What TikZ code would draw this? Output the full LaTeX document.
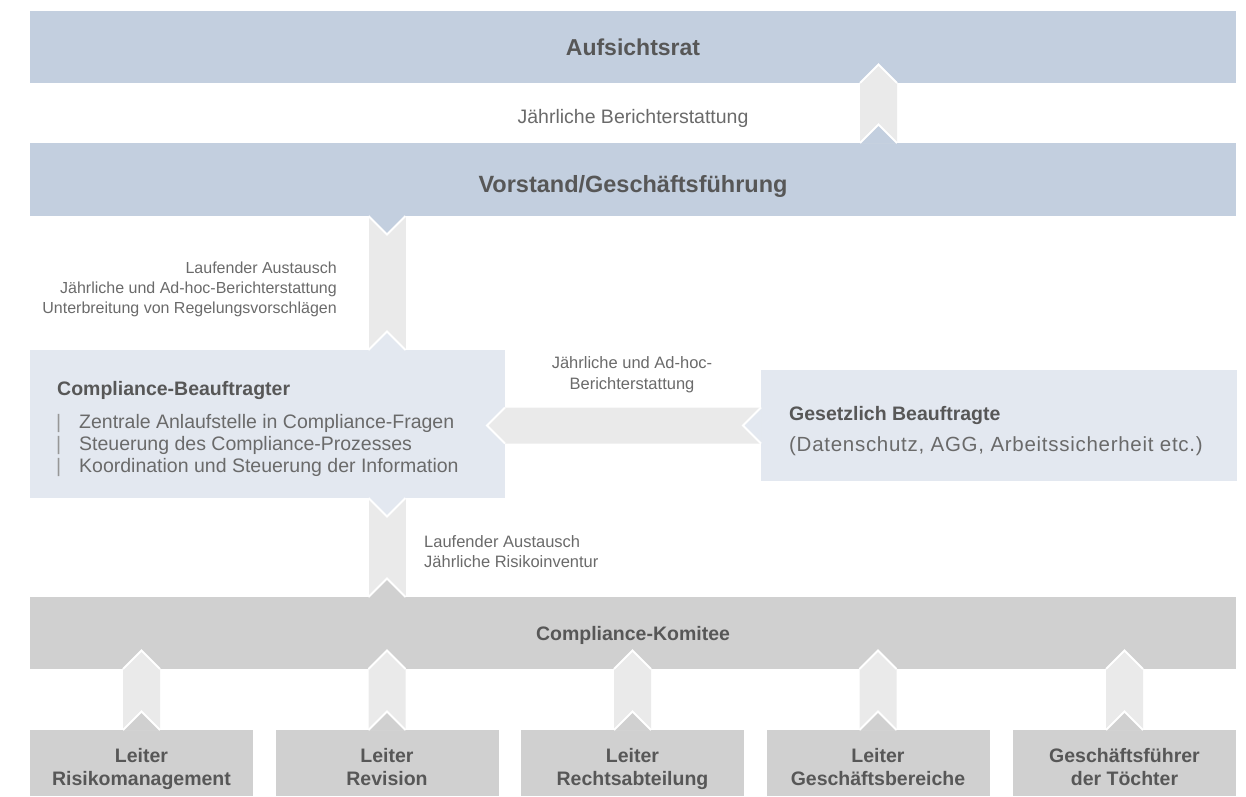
\documentclass[tikz,border=0pt]{standalone}
\usepackage{fontspec}
\setmainfont{Liberation Sans}
\usetikzlibrary{calc}
\definecolor{barblue}{HTML}{C3CFDF}
\definecolor{boxblue}{HTML}{E3E8F0}
\definecolor{arrgray}{HTML}{EAEAEA}
\definecolor{boxgray}{HTML}{D0D0D0}
\definecolor{txtdark}{HTML}{575757}
\definecolor{txtlight}{HTML}{6A6A6A}

% up-pointing chevron: #1 x, #2 upper node, #3 lower node, #4 lower colour
\newcommand\upchev[4]{%
  \fill[arrgray] let \p1=(#2.south), \p2=(#3.north) in
    (#1-18.5pt,\y1) -- (#1,\y1+18.5pt) -- (#1+18.5pt,\y1) -- (#1+18.5pt,\y2) -- (#1-18.5pt,\y2) -- cycle;
  \fill[#4] let \p2=(#3.north) in (#1-18.5pt,\y2) -- (#1,\y2+18.5pt) -- (#1+18.5pt,\y2) -- cycle;
  \draw[wline] let \p1=(#2.south) in (#1-18.5pt,\y1) -- (#1,\y1+18.5pt) -- (#1+18.5pt,\y1);
  \draw[wline] let \p2=(#3.north) in (#1-18.5pt,\y2) -- (#1,\y2+18.5pt) -- (#1+18.5pt,\y2);
}
% strip with notches: #1 x, #2 upper node, #3 lower node, #4 upper colour, #5 lower colour
\newcommand\notchstrip[5]{%
  \fill[arrgray] let \p1=(#2.south), \p2=(#3.north) in (#1-18.5pt,\y1) rectangle (#1+18.5pt,\y2);
  \fill[#4] let \p1=(#2.south) in (#1-18.5pt,\y1) -- (#1,\y1-18.5pt) -- (#1+18.5pt,\y1) -- cycle;
  \fill[#5] let \p2=(#3.north) in (#1-18.5pt,\y2) -- (#1,\y2+18.5pt) -- (#1+18.5pt,\y2) -- cycle;
  \draw[wline] let \p1=(#2.south) in (#1-18.5pt,\y1) -- (#1,\y1-18.5pt) -- (#1+18.5pt,\y1);
  \draw[wline] let \p2=(#3.north) in (#1-18.5pt,\y2) -- (#1,\y2+18.5pt) -- (#1+18.5pt,\y2);
}

\begin{document}
\begin{tikzpicture}[x=1pt,y=-1pt,
  box/.style={draw=none, inner sep=0pt, outer sep=0pt, anchor=north west},
  wline/.style={white, line width=2pt, line join=miter},
  hd/.style={font=\fontsize{19.5}{23}\selectfont\bfseries, text=txtdark, inner sep=0pt},
  hdbig/.style={font=\fontsize{23.5}{27}\selectfont\bfseries, text=txtdark, inner sep=0pt},
  hdtop/.style={font=\fontsize{23}{27}\selectfont\bfseries, text=txtdark, inner sep=0pt},
  lab/.style={font=\fontsize{16.5}{20}\selectfont, text=txtlight, inner sep=0pt},
  labl/.style={font=\fontsize{16}{20}\selectfont, text=txtlight, inner sep=0pt},
  lst/.style={font=\fontsize{19.5}{23}\selectfont, text=txtlight, inner sep=0pt},
  lstw/.style={font=\fontsize{20.5}{24}\selectfont\addfontfeatures{LetterSpace=3.5}, text=txtlight, inner sep=0pt},
  vbar/.style={font=\fontsize{19.5}{23}\selectfont, text=txtlight!70, inner sep=0pt}]
\useasboundingbox (0,0) rectangle (1246,796);

% boxes
\node[box, fill=barblue, minimum width=1206pt, minimum height=72pt] (auf) at (30,11) {};
\node[box, fill=barblue, minimum width=1206pt, minimum height=73pt] (vor) at (30,143) {};
\node[box, fill=boxblue, minimum width=475pt, minimum height=148pt] (cb) at (30,350) {};
\node[box, fill=boxblue, minimum width=476pt, minimum height=111pt] (gb) at (761,370) {};
\node[box, fill=boxgray, minimum width=1206pt, minimum height=72pt] (kom) at (30,597) {};
\node[box, fill=boxgray, minimum width=223pt, minimum height=66pt] (b1) at (30,730) {};
\node[box, fill=boxgray, minimum width=223pt, minimum height=66pt] (b2) at (275.5,730) {};
\node[box, fill=boxgray, minimum width=223pt, minimum height=66pt] (b3) at (521,730) {};
\node[box, fill=boxgray, minimum width=223pt, minimum height=66pt] (b4) at (766.5,730) {};
\node[box, fill=boxgray, minimum width=223pt, minimum height=66pt] (b5) at (1013,730) {};

% arrows
\upchev{878.5pt}{auf}{vor}{barblue}
\notchstrip{387pt}{vor}{cb}{barblue}{boxblue}
\notchstrip{387pt}{cb}{kom}{boxblue}{boxgray}
\fill[arrgray] let \p1=(cb.east), \p2=(gb.west) in
  (\x1,\y2+18pt) -- (\x1-18pt,\y2) -- (\x1,\y2-18pt) -- (\x2,\y2-18pt) -- (\x2,\y2+18pt) -- cycle;
\fill[boxblue] let \p2=(gb.west) in (\x2,\y2+18pt) -- (\x2-18pt,\y2) -- (\x2,\y2-18pt) -- cycle;
\draw[wline] let \p1=(cb.east), \p2=(gb.west) in (\x1,\y2+18pt) -- (\x1-18pt,\y2) -- (\x1,\y2-18pt);
\draw[wline] let \p2=(gb.west) in (\x2,\y2+18pt) -- (\x2-18pt,\y2) -- (\x2,\y2-18pt);
\foreach \b/\cx in {b1/141.5pt, b2/387pt, b3/632.5pt, b4/878pt, b5/1124.5pt}{
  \upchev{\cx}{kom}{\b}{boxgray}
}

% texts
\node[hdtop, anchor=base] (t-auf) at (633,55) {Aufsichtsrat};
\node[lst, anchor=base] (t-jb) at (633,123) {Jährliche Berichterstattung};
\node[hdbig, anchor=base] (t-vor) at (633,192) {Vorstand/Geschäftsführung};

\node[labl, anchor=base east] (l1) at (337,273) {Laufender Austausch};
\node[labl, anchor=base east] (l2) at (337,293) {Jährliche und Ad-hoc-Berichterstattung};
\node[labl, anchor=base east] (l3) at (337,313) {Unterbreitung von Regelungsvorschlägen};

\node[hd, anchor=base west] (t-cb) at (57,395) {Compliance-Beauftragter};
\node[vbar, anchor=base west] (v1) at (56,428) {|};
\node[vbar, anchor=base west] (v2) at (56,450) {|};
\node[vbar, anchor=base west] (v3) at (56,472) {|};
\node[lst, anchor=base west] (c1) at (79,428) {Zentrale Anlaufstelle in Compliance-Fragen};
\node[lst, anchor=base west] (c2) at (79,450) {Steuerung des Compliance-Prozesses};
\node[lst, anchor=base west] (c3) at (79,472) {Koordination und Steuerung der Information};

\node[lab, anchor=base] (m1) at (632,368) {Jährliche und Ad-hoc-};
\node[lab, anchor=base] (m2) at (632,389) {Berichterstattung};

\node[hd, anchor=base west] (t-gb) at (789,420) {Gesetzlich Beauftragte};
\node[lstw, anchor=base west] (g1) at (789,451) {(Datenschutz, AGG, Arbeitssicherheit etc.)};

\node[lab, anchor=base west] (k1) at (424,547) {Laufender Austausch};
\node[lab, anchor=base west] (k2) at (424,567) {Jährliche Risikoinventur};

\node[hd, anchor=base] (t-kom) at (633,640) {Compliance-Komitee};

\node[hd, anchor=base] (t1a) at (141.5,762) {Leiter};
\node[hd, anchor=base] (t1b) at (141.5,785) {Risikomanagement};
\node[hd, anchor=base] (t2a) at (387,762) {Leiter};
\node[hd, anchor=base] (t2b) at (387,785) {Revision};
\node[hd, anchor=base] (t3a) at (632.5,762) {Leiter};
\node[hd, anchor=base] (t3b) at (632.5,785) {Rechtsabteilung};
\node[hd, anchor=base] (t4a) at (878,762) {Leiter};
\node[hd, anchor=base] (t4b) at (878,785) {Geschäftsbereiche};
\node[hd, anchor=base] (t5a) at (1124.5,762) {Geschäftsführer};
\node[hd, anchor=base] (t5b) at (1124.5,785) {der Töchter};
\end{tikzpicture}
\end{document}
